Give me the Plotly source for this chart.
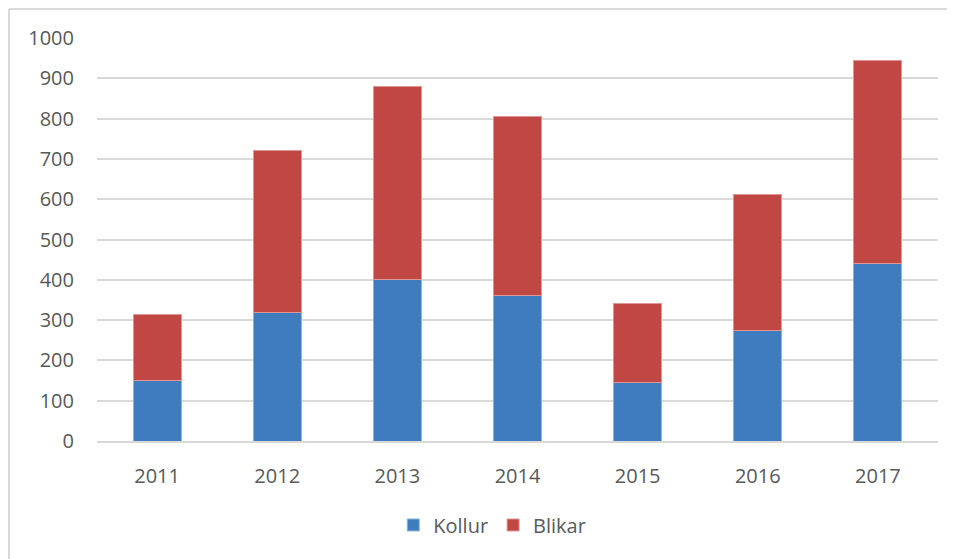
import plotly.graph_objects as go

years = ["2011", "2012", "2013", "2014", "2015", "2016", "2017"]
kollur = [150, 320, 400, 360, 145, 275, 440]
blikar = [165, 400, 480, 445, 195, 337, 505]
y_ticks = [0, 100, 200, 300, 400, 500, 600, 700, 800, 900, 1000]

# page has an 8px body margin, so the figure is sized to fit
W, H = 947, 551
L, R, T, B = 89, 17, 30, 118
pw, ph = W - L - R, H - T - B

fig = go.Figure()
fig.add_trace(go.Bar(x=years, y=kollur, name="Kollur", marker_color="#3f7cbf",
                     marker_line=dict(color="#8fb3dc", width=1)))
fig.add_trace(go.Bar(x=years, y=blikar, name="Blikar", marker_color="#c04744",
                     marker_line=dict(color="#e09694", width=1)))

font = dict(family="Open Sans, Noto Sans, sans-serif", size=20, color="#595959")

# chart frame (left and top edges visible)
fig.add_shape(type="line", xref="paper", yref="paper",
              x0=(1 - L) / pw, x1=(1 - L) / pw, y0=(H - B - 1) / ph, y1=(H - B - 600) / ph,
              line=dict(color="#d9d9d9", width=2))
fig.add_shape(type="line", xref="paper", yref="paper",
              x0=(1 - L) / pw, x1=(1000 - L) / pw, y0=(H - B - 1) / ph, y1=(H - B - 1) / ph,
              line=dict(color="#d9d9d9", width=2))

fig.update_layout(
    width=W, height=H,
    margin=dict(l=L, r=R, t=T, b=B),
    barmode="stack",
    bargap=0.6,
    paper_bgcolor="white",
    plot_bgcolor="white",
    font=font,
    showlegend=True,
    legend=dict(orientation="h", x=0.47, xanchor="center", y=-0.16, yanchor="top",
                font=font, itemwidth=30, traceorder="normal"),
    xaxis=dict(showgrid=False, showline=True, linecolor="#d9d9d9", linewidth=1.5,
               ticks="", tickfont=font, ticklabelstandoff=16),
    yaxis=dict(range=[0, 1000], tickvals=y_ticks, showgrid=True, gridcolor="#d9d9d9",
               gridwidth=1.5, zeroline=False, showline=False, ticks="",
               tickfont=font, ticklabelstandoff=22),
)

fig.write_html("out.html")
